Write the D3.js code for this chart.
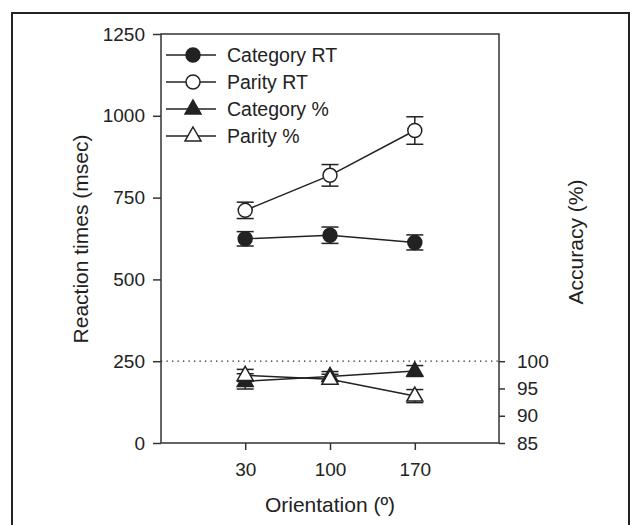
<!DOCTYPE html>
<html>
<head>
<meta charset="utf-8">
<script src="https://cdn.jsdelivr.net/npm/d3@7"></script>
<style>
	html, body { margin: 0; padding: 0; background: #fff; }
	svg text { font-family: "Liberation Sans", Arial, sans-serif; fill: #222; }
</style>
</head>
<body>
<div id="chart"></div>
<script>
// orientations (deg)
const orientations = [30, 100, 170];

// reaction times (msec) with error bars
const categoryRT = [624, 635, 613];
const categoryRTErr = [22, 25, 23];
const parityRT = [711, 818, 955];
const parityRTErr = [25, 33, 42];

// accuracy (%) with error bars
const categoryAcc = [96.3, 97.2, 98.2];
const categoryAccErr = [1.4, 0.9, 1.0];
const parityAcc = [97.4, 96.7, 93.6];
const parityAccErr = [1.1, 0.9, 1.2];

const rtTicks = [0, 250, 500, 750, 1000, 1250];
const accTicks = [85, 90, 95, 100];

const legendLabels = ["Category RT", "Parity RT", "Category %", "Parity %"];

const WIDTH = 635;
const HEIGHT = 525;
const FRAME = { left: 161, right: 499, top: 34, bottom: 443 };
const INK = "#222";

const svg = d3.select("#chart")
	.append("svg")
	.attr("width", WIDTH)
	.attr("height", HEIGHT);

// outer figure border
svg.append("rect")
	.attr("x", 12)
	.attr("y", 13)
	.attr("width", 617)
	.attr("height", 530)
	.attr("fill", "none")
	.attr("stroke", INK)
	.attr("stroke-width", 2);

const X_SCALE = d3.scaleLinear()
	.domain([-39.5, 239.5])
	.range([FRAME.left, FRAME.right]);

const Y_SCALE = d3.scaleLinear()
	.domain([0, 1250])
	.range([FRAME.bottom, FRAME.top]);

// accuracy only uses the lower part of the plot (250 msec level = 100 %)
const ACC_SCALE = d3.scaleLinear()
	.domain([85, 100])
	.range([FRAME.bottom, Y_SCALE(250)]);

// dotted reference line at 100 %
svg.append("line")
	.attr("x1", FRAME.left)
	.attr("x2", FRAME.right)
	.attr("y1", ACC_SCALE(100))
	.attr("y2", ACC_SCALE(100))
	.attr("stroke", INK)
	.attr("stroke-width", 1.3)
	.attr("stroke-dasharray", "1.3,4.2");

// plot frame
svg.append("rect")
	.attr("x", FRAME.left)
	.attr("y", FRAME.top)
	.attr("width", FRAME.right - FRAME.left)
	.attr("height", FRAME.bottom - FRAME.top)
	.attr("fill", "none")
	.attr("stroke", "#333")
	.attr("stroke-width", 1.5);

function styleAxis(g) {
	g.select(".domain").remove();
	g.selectAll("line").attr("stroke", "#333").attr("stroke-width", 1.5);
	g.selectAll("text")
		.style("font-size", "19px")
		.style("font-family", "'Liberation Sans', Arial, sans-serif")
		.attr("fill", INK);
}

const fmt = d3.format("d");

svg.append("g")
	.attr("transform", `translate(${FRAME.left},0)`)
	.call(d3.axisLeft(Y_SCALE).tickValues(rtTicks).tickFormat(fmt).tickSize(8).tickPadding(8))
	.call(styleAxis);

svg.append("g")
	.attr("transform", `translate(${FRAME.right},0)`)
	.call(d3.axisRight(ACC_SCALE).tickValues(accTicks).tickFormat(fmt).tickSize(6).tickPadding(12))
	.call(styleAxis);

svg.append("g")
	.attr("transform", `translate(0,${FRAME.bottom})`)
	.call(d3.axisBottom(X_SCALE).tickValues(orientations).tickFormat(fmt).tickSize(7).tickPadding(13))
	.call(styleAxis);

// axis titles
svg.append("text")
	.attr("transform", "translate(88,239) rotate(-90)")
	.attr("text-anchor", "middle")
	.style("font-size", "21px")
	.text("Reaction times (msec)");

svg.append("text")
	.attr("transform", "translate(583,242) rotate(-90)")
	.attr("text-anchor", "middle")
	.style("font-size", "21px")
	.text("Accuracy (%)");

svg.append("text")
	.attr("x", X_SCALE(100))
	.attr("y", 512)
	.attr("text-anchor", "middle")
	.style("font-size", "21px")
	.text("Orientation (º)");

const series = [
	{ values: categoryRT, err: categoryRTErr, scale: Y_SCALE, shape: "circle", fill: INK },
	{ values: parityRT, err: parityRTErr, scale: Y_SCALE, shape: "circle", fill: "#fff" },
	{ values: categoryAcc, err: categoryAccErr, scale: ACC_SCALE, shape: "triangle", fill: INK },
	{ values: parityAcc, err: parityAccErr, scale: ACC_SCALE, shape: "triangle", fill: "#fff" },
];

const triPath = "M0,-9L8,5L-8,5Z";

function drawMarker(g, s) {
	if (s.shape === "circle") {
		g.append("circle")
			.attr("r", 7)
			.attr("fill", s.fill)
			.attr("stroke", INK)
			.attr("stroke-width", 1.5);
	} else {
		g.append("path")
			.attr("d", triPath)
			.attr("fill", s.fill)
			.attr("stroke", INK)
			.attr("stroke-width", 1.5);
	}
}

const line = d3.line();

series.forEach((s) => {
	const pts = orientations.map((o, i) => ({
		x: X_SCALE(o),
		y: s.scale(s.values[i]),
		hi: s.scale(s.values[i] + s.err[i]),
		lo: s.scale(s.values[i] - s.err[i]),
	}));

	// error bars
	const eb = svg.append("g")
		.attr("stroke", INK)
		.attr("stroke-width", 1.5);
	pts.forEach((p) => {
		eb.append("line").attr("x1", p.x).attr("x2", p.x).attr("y1", p.hi).attr("y2", p.lo);
		eb.append("line").attr("x1", p.x - 8.5).attr("x2", p.x + 8.5).attr("y1", p.hi).attr("y2", p.hi);
		eb.append("line").attr("x1", p.x - 8.5).attr("x2", p.x + 8.5).attr("y1", p.lo).attr("y2", p.lo);
	});

	svg.append("path")
		.attr("d", line(pts.map((p) => [p.x, p.y])))
		.attr("fill", "none")
		.attr("stroke", INK)
		.attr("stroke-width", 1.5);

	pts.forEach((p) => {
		const g = svg.append("g").attr("transform", `translate(${p.x},${p.y})`);
		drawMarker(g, s);
	});
});

// legend
const legend = svg.append("g").attr("transform", "translate(166,55)");
series.forEach((s, i) => {
	const row = legend.append("g").attr("transform", `translate(0,${i * 27})`);
	row.append("line")
		.attr("x1", 0)
		.attr("x2", 50)
		.attr("stroke", INK)
		.attr("stroke-width", 1.5);
	const m = row.append("g").attr("transform", "translate(27,0)");
	drawMarker(m, s);
	row.append("text")
		.attr("x", 61)
		.attr("dy", "0.35em")
		.style("font-size", "19.5px")
		.text(legendLabels[i]);
});
</script>
</body>
</html>
